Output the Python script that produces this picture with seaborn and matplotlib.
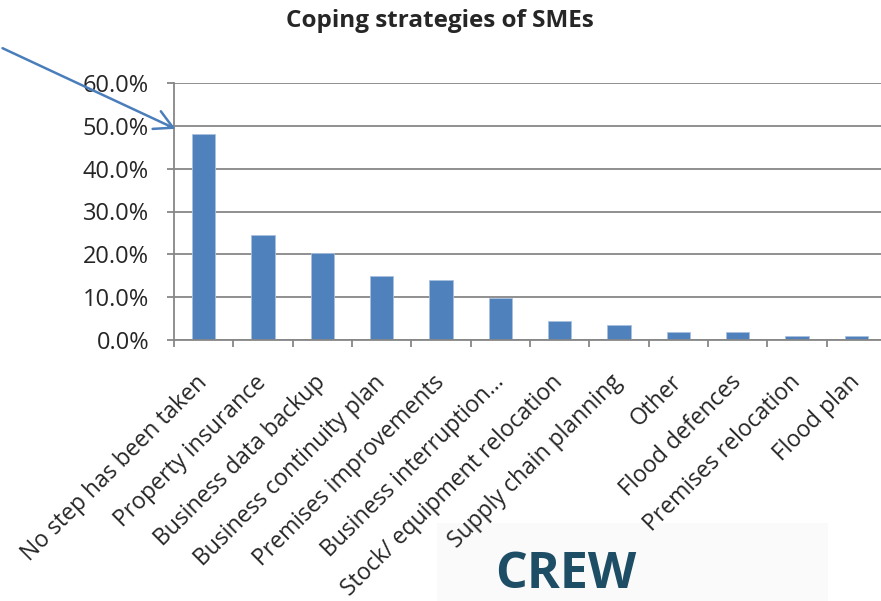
import matplotlib
matplotlib.use("Agg")
import matplotlib.pyplot as plt
import matplotlib.ticker as ticker
from matplotlib.patches import FancyArrowPatch, Rectangle
import seaborn as sns

# data
strategies = ["No step has been taken", "Property insurance", "Business data backup",
              "Business continuity plan", "Premises improvements", "Business interruption...",
              "Stock/ equipment relocation", "Supply chain planning", "Other",
              "Flood defences", "Premises relocation", "Flood plan"]
share = [0.481, 0.245, 0.203, 0.150, 0.140, 0.097, 0.044, 0.036, 0.018, 0.018, 0.010, 0.010]
y_ticks = [0.0, 0.1, 0.2, 0.3, 0.4, 0.5, 0.6]

sns.set_style("white")
plt.rcParams['font.family'] = ['Open Sans', 'DejaVu Sans']

W, H = 881, 601
fig = plt.figure(figsize=(W / 100, H / 100), dpi=100)
# plot area in pixels: x 174..886, y 83..340 (runs a bit past the right edge)
ax = fig.add_axes([174 / W, (H - 340) / H, (886 - 174) / W, (340 - 83) / H])

bar_blue = '#4F81BD'
grid_gray = '#878787'

sns.barplot(x=strategies, y=share, color=bar_blue, saturation=1, width=0.39,
            edgecolor='#A9C0DE', linewidth=0.6, ax=ax)

ax.set_xlim(-0.5, len(strategies) - 0.5)
ax.set_ylim(0, 0.6)
ax.set_yticks(y_ticks)
ax.yaxis.set_major_formatter(ticker.FuncFormatter(lambda v, p: f"{v * 100:.1f}%"))
ax.yaxis.grid(True, color=grid_gray, linewidth=1.3)
ax.set_axisbelow(True)
ax.set_xlabel("")
ax.set_ylabel("")

for s in ['top', 'right']:
    ax.spines[s].set_visible(False)
for s in ['left', 'bottom']:
    ax.spines[s].set_color(grid_gray)
    ax.spines[s].set_linewidth(1.3)

# category boundaries carry the tick marks, labels sit under bars
ax.set_xticks([i - 0.5 for i in range(len(strategies) + 1)], minor=True)
ax.tick_params(axis='x', which='minor', direction='out', length=5, width=1.3,
               color=grid_gray, bottom=True)
ax.tick_params(axis='x', which='major', length=0, pad=28, labelsize=16.5)
ax.tick_params(axis='y', direction='out', length=5, width=1.3, color=grid_gray,
               left=True, pad=13, labelsize=17)
plt.setp(ax.get_xticklabels(), rotation=45, ha='right', va='center',
         rotation_mode='anchor')

fig.text(440 / W, 1 - 21 / H, "Coping strategies of SMEs", ha='center', va='center',
         fontsize=17.5, fontweight='bold')

# pointer arrow towards the first bar
arrow = FancyArrowPatch((0, 1 - 47 / H), (178 / W, 1 - 130 / H),
                        transform=fig.transFigure, arrowstyle='->,head_length=13,head_width=7',
                        color='#4A7EBB', linewidth=1.8, mutation_scale=1)
fig.add_artist(arrow)

# logo strip at the bottom
fig.add_artist(Rectangle((437 / W, 0), (828 - 437) / W, (601 - 523) / H,
                         transform=fig.transFigure, facecolor='#FAFAFA',
                         edgecolor='none', zorder=-1))
fig.text(495 / W, 1 - 550 / H, "CREW", ha='left', va='top', fontsize=36,
         fontweight='bold', color='#1E4D66')

fig.savefig("out.png", dpi=100)
